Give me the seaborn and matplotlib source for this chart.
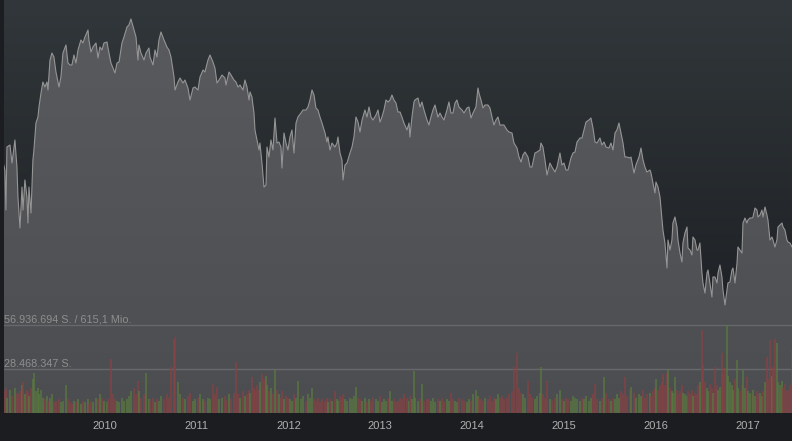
import numpy as np
import pandas as pd
import matplotlib
matplotlib.use("Agg")
import matplotlib.pyplot as plt
from matplotlib.colors import LinearSegmentedColormap
from matplotlib.transforms import blended_transform_factory
import seaborn as sns

# ---------------- data (decimal year, close in EUR, volume in million shares) ----------------
dates_a = [2008.892, 2008.910, 2008.921, 2008.932, 2008.965, 2008.987, 2009.019, 2009.041, 2009.052, 2009.074,
           2009.096, 2009.107, 2009.128, 2009.150, 2009.161, 2009.172, 2009.194, 2009.215, 2009.226, 2009.248,
           2009.270, 2009.281, 2009.303, 2009.324, 2009.346, 2009.368, 2009.379, 2009.401, 2009.422, 2009.444,
           2009.466, 2009.499, 2009.520, 2009.542, 2009.575, 2009.597, 2009.619, 2009.640, 2009.662, 2009.684,
           2009.706, 2009.738, 2009.760, 2009.782, 2009.815, 2009.825, 2009.847, 2009.869, 2009.902, 2009.924,
           2009.945, 2009.967, 2009.989, 2010.022, 2010.033, 2010.065, 2010.087, 2010.109, 2010.131, 2010.153,
           2010.185, 2010.207, 2010.240, 2010.261, 2010.283]
close_a = [25.0, 24.3, 20.3, 26.6, 26.8, 25.0, 27.3, 24.6, 21.6, 18.5,
           22.6, 20.3, 23.3, 21.6, 19.0, 22.6, 20.0, 25.3, 26.3, 29.0,
           29.6, 30.6, 32.0, 33.1, 32.6, 33.1, 32.3, 35.3, 36.0, 35.6,
           34.1, 32.6, 33.6, 36.0, 36.8, 35.0, 34.8, 34.8, 35.8, 35.0,
           36.3, 37.3, 37.0, 37.6, 38.3, 37.3, 36.1, 36.6, 37.0, 35.5,
           36.6, 36.3, 37.0, 37.1, 36.5, 35.0, 34.5, 34.0, 35.0, 35.1,
           37.0, 37.6, 38.6, 38.8, 39.4]
volume_a = [12, 14, 16, 10, 15, 11, 16, 13, 12, 14,
            18, 20, 12, 15, 13, 11, 16, 22, 26, 14,
            16, 12, 15, 10, 9, 11, 8, 10, 12, 7,
            8, 9, 7, 8, 18, 9, 7, 6, 8, 7,
            9, 6, 8, 7, 9, 6, 8, 7, 10, 9,
            12, 10, 8, 7, 9, 35, 12, 9, 8, 7,
            10, 8, 9, 11, 14]

dates_b = [2010.316, 2010.338, 2010.359, 2010.370, 2010.392, 2010.425, 2010.447, 2010.479, 2010.490, 2010.523,
           2010.545, 2010.566, 2010.588, 2010.610, 2010.643, 2010.675, 2010.697, 2010.719, 2010.752, 2010.763,
           2010.795, 2010.817, 2010.850, 2010.871, 2010.904, 2010.926, 2010.959, 2010.980, 2011.013, 2011.035,
           2011.068, 2011.089, 2011.122, 2011.144, 2011.176, 2011.198, 2011.220, 2011.242, 2011.275, 2011.307,
           2011.318, 2011.351, 2011.373, 2011.405, 2011.427, 2011.449, 2011.471, 2011.503, 2011.525, 2011.547,
           2011.569, 2011.580, 2011.601, 2011.623, 2011.634, 2011.656, 2011.678, 2011.688, 2011.710, 2011.732]
close_b = [38.3, 37.6, 35.3, 36.8, 36.0, 35.3, 36.0, 36.5, 35.6, 34.8,
           36.3, 35.6, 37.3, 38.1, 37.3, 36.6, 36.3, 35.6, 33.6, 32.3,
           33.1, 33.5, 33.0, 33.3, 32.5, 31.3, 32.5, 32.6, 32.3, 33.6,
           34.3, 34.1, 35.3, 35.8, 35.1, 34.5, 33.0, 33.3, 33.8, 33.5,
           32.8, 34.1, 33.8, 33.3, 33.1, 32.6, 32.8, 32.3, 33.3, 32.6,
           31.3, 32.1, 31.6, 30.0, 28.3, 27.3, 26.3, 27.0, 25.0, 22.6]
volume_b = [16, 12, 21, 14, 10, 12, 26, 9, 8, 10,
            7, 9, 8, 11, 9, 12, 10, 30, 47, 49,
            20, 12, 10, 9, 11, 13, 8, 9, 10, 12,
            9, 8, 10, 9, 19, 12, 17, 9, 10, 11,
            8, 12, 9, 13, 33, 12, 10, 14, 11, 12,
            15, 13, 23, 16, 14, 18, 15, 20, 25, 22]

dates_c = [2011.754, 2011.765, 2011.786, 2011.808, 2011.830, 2011.852, 2011.874, 2011.895, 2011.917, 2011.928,
           2011.950, 2011.972, 2011.993, 2012.015, 2012.037, 2012.059, 2012.081, 2012.102, 2012.135, 2012.157,
           2012.190, 2012.211, 2012.233, 2012.255, 2012.277, 2012.298, 2012.320, 2012.342, 2012.364, 2012.397,
           2012.418, 2012.429, 2012.451, 2012.473, 2012.505, 2012.527, 2012.538, 2012.560, 2012.582, 2012.593,
           2012.614, 2012.636, 2012.669, 2012.691, 2012.712, 2012.734, 2012.756, 2012.778, 2012.800, 2012.832,
           2012.854, 2012.876, 2012.898, 2012.919, 2012.952, 2012.974, 2012.996, 2013.017, 2013.039, 2013.061,
           2013.083, 2013.105, 2013.126, 2013.148, 2013.170]
close_c = [22.8, 26.6, 25.6, 27.3, 26.3, 29.5, 27.0, 27.1, 26.6, 24.5,
           28.0, 27.0, 26.3, 27.6, 28.3, 26.0, 29.0, 29.6, 30.0, 30.3,
           30.3, 30.6, 31.3, 32.3, 31.8, 30.5, 30.3, 29.6, 29.0, 28.0,
           27.1, 27.6, 26.3, 27.0, 26.6, 27.0, 27.6, 26.0, 25.3, 23.3,
           24.8, 25.0, 26.0, 26.6, 27.6, 29.6, 29.1, 28.1, 29.3, 30.3,
           29.6, 30.6, 29.6, 29.3, 29.8, 30.3, 29.1, 29.6, 30.3, 31.3,
           31.1, 31.3, 31.8, 31.3, 31.0]
volume_c = [24, 18, 14, 16, 12, 28, 15, 12, 10, 14,
            9, 11, 10, 9, 8, 12, 10, 21, 9, 11,
            8, 12, 10, 16, 9, 8, 10, 7, 9, 8,
            10, 7, 9, 8, 14, 9, 8, 11, 10, 12,
            9, 8, 10, 9, 11, 17, 10, 9, 8, 10,
            7, 9, 8, 10, 9, 8, 11, 7, 9, 8,
            10, 14, 8, 9, 7]

dates_d = [2013.192, 2013.214, 2013.235, 2013.257, 2013.290, 2013.312, 2013.322, 2013.344, 2013.366, 2013.377,
           2013.410, 2013.431, 2013.453, 2013.475, 2013.508, 2013.529, 2013.551, 2013.573, 2013.595, 2013.627,
           2013.649, 2013.671, 2013.693, 2013.725, 2013.747, 2013.769, 2013.791, 2013.813, 2013.834, 2013.856,
           2013.889, 2013.911, 2013.943, 2013.965, 2013.987, 2014.009, 2014.041, 2014.063, 2014.074, 2014.096,
           2014.118, 2014.139, 2014.172, 2014.194, 2014.216, 2014.237, 2014.259, 2014.281, 2014.303, 2014.325,
           2014.346, 2014.379, 2014.401, 2014.434, 2014.455, 2014.488, 2014.510, 2014.532, 2014.553, 2014.575,
           2014.608]
close_d = [30.1, 30.1, 29.6, 29.0, 28.3, 29.0, 27.6, 29.6, 31.1, 31.3,
           31.5, 30.6, 31.1, 30.3, 29.3, 28.8, 29.6, 30.3, 30.8, 29.6,
           30.0, 29.6, 29.3, 30.3, 31.1, 30.0, 30.0, 31.0, 31.3, 30.6,
           30.3, 30.0, 30.5, 30.6, 29.5, 30.0, 30.6, 32.5, 32.0, 31.3,
           30.5, 30.8, 30.8, 30.5, 29.6, 28.8, 29.3, 29.6, 28.8, 28.8,
           28.8, 28.3, 28.1, 28.0, 27.0, 26.5, 25.6, 25.1, 25.8, 26.1,
           25.6]
volume_d = [8, 10, 9, 12, 10, 8, 11, 9, 27, 10,
            8, 9, 19, 8, 9, 9, 8, 10, 7, 9,
            8, 10, 7, 9, 8, 13, 9, 8, 7, 10,
            9, 8, 7, 9, 8, 12, 15, 11, 10, 9,
            8, 10, 9, 11, 8, 10, 9, 12, 10, 11,
            9, 10, 12, 14, 30, 39, 16, 13, 12, 10,
            21]

dates_e = [2014.630, 2014.651, 2014.684, 2014.706, 2014.739, 2014.749, 2014.771, 2014.793, 2014.815, 2014.847,
           2014.869, 2014.902, 2014.924, 2014.956, 2014.978, 2015.000, 2015.022, 2015.044, 2015.076, 2015.098,
           2015.120, 2015.142, 2015.174, 2015.196, 2015.218, 2015.240, 2015.272, 2015.294, 2015.316, 2015.338,
           2015.359, 2015.392, 2015.414, 2015.436, 2015.458, 2015.490, 2015.512, 2015.534, 2015.556, 2015.577,
           2015.599, 2015.621, 2015.643, 2015.664, 2015.686, 2015.719, 2015.730, 2015.763, 2015.784, 2015.817,
           2015.839, 2015.861, 2015.882, 2015.904, 2015.937, 2015.948, 2015.969, 2015.991, 2016.002, 2016.024,
           2016.046]
close_e = [24.6, 24.6, 26.0, 26.1, 26.3, 27.0, 26.6, 25.3, 23.8, 25.0,
           24.6, 24.1, 24.6, 26.0, 24.8, 25.0, 24.3, 24.3, 25.5, 26.0,
           26.1, 27.1, 27.5, 27.5, 28.3, 29.1, 29.3, 29.5, 28.5, 27.1,
           27.0, 27.5, 26.8, 27.1, 26.6, 26.5, 27.0, 26.3, 28.0, 28.3,
           29.0, 28.0, 27.0, 25.6, 25.6, 25.5, 25.6, 24.0, 24.8, 25.6,
           26.5, 25.3, 24.6, 24.1, 24.3, 24.0, 23.0, 22.0, 23.1, 22.6,
           21.6]
volume_e = [12, 10, 9, 11, 13, 30, 12, 10, 21, 9,
            8, 10, 12, 15, 9, 8, 10, 9, 8, 11,
            10, 9, 8, 10, 9, 11, 8, 10, 12, 19,
            9, 8, 10, 23, 13, 9, 8, 10, 9, 12,
            10, 14, 12, 23, 11, 15, 17, 13, 10, 12,
            11, 15, 10, 12, 13, 11, 14, 16, 22, 15,
            18]

dates_f = [2016.068, 2016.078, 2016.100, 2016.122, 2016.133, 2016.155, 2016.176, 2016.187, 2016.209, 2016.231,
           2016.242, 2016.264, 2016.285, 2016.296, 2016.318, 2016.340, 2016.351, 2016.373, 2016.394, 2016.405,
           2016.427, 2016.449, 2016.460, 2016.481, 2016.503, 2016.514, 2016.536, 2016.558, 2016.569, 2016.590,
           2016.612, 2016.623, 2016.645, 2016.667, 2016.678, 2016.699, 2016.721, 2016.732, 2016.754, 2016.776,
           2016.786, 2016.808, 2016.830, 2016.841, 2016.863, 2016.885, 2016.895, 2016.917, 2016.939, 2016.950,
           2016.972, 2016.993, 2017.004, 2017.026, 2017.048, 2017.059, 2017.081, 2017.102, 2017.113, 2017.135,
           2017.157, 2017.168, 2017.190, 2017.211, 2017.222, 2017.244, 2017.266, 2017.277, 2017.298, 2017.320,
           2017.331, 2017.353, 2017.375, 2017.386, 2017.407, 2017.429, 2017.440, 2017.462, 2017.484]
close_f = [19.3, 18.3, 17.0, 14.5, 17.3, 16.3, 17.3, 19.0, 19.6, 18.6,
           17.3, 16.0, 15.1, 17.0, 18.0, 18.6, 16.5, 16.3, 15.8, 17.6,
           17.3, 16.3, 16.3, 17.0, 14.0, 13.0, 12.0, 14.0, 14.3, 13.0,
           11.6, 13.6, 13.6, 13.0, 14.0, 14.8, 13.6, 12.3, 10.8, 12.3,
           13.0, 13.1, 14.3, 14.5, 13.0, 15.0, 16.6, 16.3, 16.0, 19.0,
           19.5, 19.0, 19.3, 19.5, 19.5, 19.6, 20.5, 20.3, 19.6, 19.8,
           20.3, 19.6, 20.6, 19.8, 19.3, 17.3, 17.6, 17.3, 16.6, 17.3,
           18.6, 18.8, 19.0, 18.6, 18.3, 17.3, 17.1, 17.0, 16.6]
volume_f = [20, 25, 18, 26, 28, 16, 14, 13, 23, 15,
            12, 14, 18, 13, 12, 11, 14, 12, 15, 11,
            13, 12, 18, 20, 54, 31, 20, 16, 14, 19,
            16, 13, 30, 18, 15, 17, 39, 25, 29, 56.936694,
            24, 20, 18, 15, 22, 34, 16, 14, 18, 28,
            16, 23, 14, 13, 12, 15, 11, 14, 12, 13,
            11, 14, 20, 36, 22, 47, 24, 30, 48, 45,
            20, 18, 21, 16, 19, 14, 15, 18, 41]

year_ticks = [2010, 2011, 2012, 2013, 2014, 2015, 2016, 2017]
max_turnover_mio = 615.1

# ---------------- assemble ----------------
df = pd.DataFrame({
    "date": dates_a + dates_b + dates_c + dates_d + dates_e + dates_f,
    "close": close_a + close_b + close_c + close_d + close_e + close_f,
    "volume": np.array(volume_a + volume_b + volume_c + volume_d + volume_e + volume_f) * 1e6,
})
df["up"] = df["close"].diff() > 0

# ---------------- figure ----------------
W, H = 792, 441
sns.set_style("dark")
plt.rcParams["font.family"] = ["Liberation Sans", "DejaVu Sans"]
fig = plt.figure(figsize=(W / 100, H / 100), dpi=100, facecolor="#1b1d20")

ax = fig.add_axes([4 / W, 28 / H, 788 / W, 413 / H])
ax.set_facecolor("#1f2226")
ax.set_xlim(2008.900, 2017.484)
ax.set_ylim(0, 41.3)

# background gradient (dark, lighter towards top)
bg_cmap = LinearSegmentedColormap.from_list(
    "bg", [(0.0, "#1d2023"), (0.27, "#1f2226"), (1.0, "#31373a")])
grad = np.linspace(0, 1, 512).reshape(-1, 1)
ax.imshow(grad, cmap=bg_cmap, aspect="auto", extent=[0, 1, 0, 1],
          transform=ax.transAxes, origin="lower", zorder=0)

# price area with vertical gradient
poly = ax.fill_between(df["date"], df["close"], 0, color="none", lw=0, zorder=1)
area_cmap = LinearSegmentedColormap.from_list("area", ["#4c4d50", "#5a5b5e"])
img = ax.imshow(grad, cmap=area_cmap, aspect="auto", extent=[0, 1, 0, 1],
                transform=ax.transAxes, origin="lower", zorder=1)
img.set_clip_path(poly.get_paths()[0], transform=ax.transData)

sns.lineplot(data=df, x="date", y="close", ax=ax, color="#959595", lw=0.8,
             estimator=None, sort=False, zorder=3)

# volume on twin axis
vmax = df["volume"].max()
ax2 = ax.twinx()
ax2.set_ylim(0, vmax * 413 / 88)
colors = np.where(df["up"], "#5a7a3e", "#8a4144")
ax2.bar(df["date"], df["volume"], width=0.021, color=colors, alpha=0.68, lw=0, zorder=2)

for level in (vmax, vmax / 2):
    ax2.axhline(level, color="#67686b", lw=1.0, zorder=1)

def de_num(v):
    return f"{int(round(v)):,}".replace(",", ".")

turnover_txt = f"{max_turnover_mio:.1f}".replace(".", ",")
tr = blended_transform_factory(ax2.transAxes, ax2.transData)
ax2.text(0.0, vmax * 1.005, f"{de_num(vmax)} S. / {turnover_txt} Mio.",
         transform=tr, color="#8e8e8e", fontsize=7.8, va="bottom", ha="left")
ax2.text(0.0, vmax / 2 * 1.01, f"{de_num(vmax / 2)} S.",
         transform=tr, color="#8e8e8e", fontsize=7.8, va="bottom", ha="left")

# axes styling
for a in (ax, ax2):
    for s in a.spines.values():
        s.set_visible(False)
    a.set_yticks([])
    a.set_ylabel("")
ax2.patch.set_visible(False)
ax.set_xlabel("")
ax.set_xticks(year_ticks)
ax.set_xticklabels([str(y) for y in year_ticks], color="#b0b0b0", fontsize=8)
ax.tick_params(axis="x", length=0, pad=6)
ax.grid(False)
ax2.grid(False)

fig.savefig("out.png", dpi=100, facecolor=fig.get_facecolor())
